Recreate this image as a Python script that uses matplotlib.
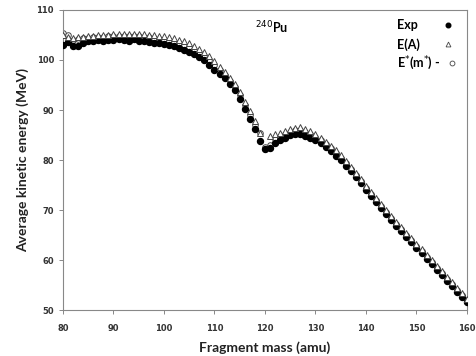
import numpy as np
import matplotlib
matplotlib.use("Agg")
import matplotlib.pyplot as plt

# fragment masses (amu)
mass = np.arange(80, 161)

exp_tke = [103.0, 103.6, 102.7, 102.7, 103.3, 103.7, 103.8, 104.0, 103.8, 103.9,
           104.0, 104.1, 104.0, 103.8, 104.1, 103.8, 103.7, 103.6, 103.4, 103.3,
           103.2, 103.0, 102.8, 102.4, 102.0, 101.6, 101.2, 100.6, 99.9, 99.0,
           98.0, 97.2, 96.3, 95.2, 94.0, 92.2, 90.3, 88.3, 86.2, 83.8,
           82.2, 82.4, 83.5, 84.0, 84.5, 85.0, 85.3, 85.2, 84.9, 84.5,
           84.0, 83.4, 82.6, 81.8, 80.9, 80.0, 78.9, 77.8, 76.7, 75.4,
           74.1, 72.8, 71.6, 70.4, 69.2, 68.0, 66.9, 65.8, 64.7, 63.6,
           62.5, 61.4, 60.3, 59.2, 58.1, 57.0, 55.9, 54.8, 53.7, 52.7,
           51.6]

ea_tke = [105.0, 104.6, 104.3, 104.5, 104.6, 104.7, 104.8, 104.9, 104.9, 105.0,
          105.1, 105.2, 105.2, 105.2, 105.2, 105.2, 105.1, 105.0, 104.9, 104.8,
          104.7, 104.5, 104.3, 104.0, 103.7, 103.3, 102.8, 102.2, 101.5, 100.7,
          99.7, 98.6, 97.6, 96.4, 95.2, 93.5, 91.7, 89.8, 87.8, 85.4,
          np.nan, 84.9, 85.2, 85.5, 85.8, 86.2, 86.5, 86.6, 86.3, 85.8,
          85.2, 84.5, 83.7, 82.9, 82.0, 81.0, 79.9, 78.7, 77.5, 76.2,
          74.9, 73.6, 72.4, 71.2, 70.0, 68.8, 67.7, 66.6, 65.5, 64.4,
          63.3, 62.2, 61.1, 60.0, 58.9, 57.8, 56.7, 55.6, 54.5, 53.4,
          52.3]

em_tke = [105.3, 104.9, 104.0, 104.1, 104.3, 104.4, 104.5, 104.6, 104.6, 104.7,
          104.8, 104.8, 104.8, 104.7, 104.8, 104.7, 104.6, 104.5, 104.3, 104.2,
          104.0, 103.8, 103.6, 103.3, 102.9, 102.5, 102.0, 101.4, 100.7, 99.9,
          98.9, 97.9, 97.0, 95.8, 94.6, 92.9, 91.0, 89.0, 87.0, 85.4,
          82.6, 83.0, 84.2, 84.7, 85.2, 85.7, 86.0, 86.0, 85.7, 85.2,
          84.6, 84.0, 83.2, 82.4, 81.5, 80.5, 79.4, 78.3, 77.1, 75.8,
          74.5, 73.2, 72.0, 70.8, 69.6, 68.4, 67.3, 66.2, 65.1, 64.0,
          62.9, 61.8, 60.7, 59.6, 58.5, 57.4, 56.3, 55.2, 54.1, 53.1,
          52.0]

labels = ["Exp", "E(A)", "E$^{*}$(m$^{*}$) -"]

fig = plt.figure(figsize=(4.77, 3.56), dpi=100)
ax = fig.add_axes([0.132, 0.129, 0.847, 0.843])

ax.plot(mass, exp_tke, "o", color="black", ms=4.3, zorder=3)
ax.plot(mass, ea_tke, "^", mfc="white", mec="#444444", mew=0.7, ms=4.3, zorder=4)
ax.plot(mass, em_tke, "o", mfc="white", mec="#444444", mew=0.7, ms=4.0, zorder=2)

ax.set_xlim(80, 160)
ax.set_ylim(50, 110)
ax.set_xticks(range(80, 161, 10))
ax.set_yticks(range(50, 111, 10))
ax.tick_params(direction="out", length=3, width=0.7, color="#888888",
               labelsize=6, labelcolor="#333333")
for lab in ax.get_xticklabels() + ax.get_yticklabels():
    lab.set_fontweight("bold")
ax.tick_params(axis="x", pad=7)
for s in ax.spines.values():
    s.set_color("#888888")
    s.set_linewidth(0.8)

ax.set_xlabel("Fragment mass (amu)", fontfamily="Lato", fontweight="bold",
              fontsize=10, color="#222222", labelpad=6)
ax.set_ylabel("Average kinetic energy (MeV)", fontfamily="Lato", fontweight="bold",
              fontsize=10, color="#222222", labelpad=5)

ax.text(0.475, 0.94, "$^{240}$Pu", transform=ax.transAxes, fontfamily="Lato",
        fontweight="bold", fontsize=9, va="center", ha="left")

# hand-made legend: text left-aligned, marker on the right
styles = [dict(marker="o", color="black", ms=3.3),
          dict(marker="^", mfc="white", mec="#444444", mew=0.6, ms=3.5),
          dict(marker="o", mfc="white", mec="#444444", mew=0.6, ms=3.5)]
ys = [0.95, 0.885, 0.822]
mx = [0.954, 0.954, 0.962]
for lab, y, x, st in zip(labels, ys, mx, styles):
    ax.text(0.826, y, lab, transform=ax.transAxes, fontfamily="Lato",
            fontweight="bold", fontsize=9, va="center", ha="left")
    ax.plot([x], [y], ls="none", transform=ax.transAxes, clip_on=False, **st)

fig.savefig("out.png", dpi=100)
